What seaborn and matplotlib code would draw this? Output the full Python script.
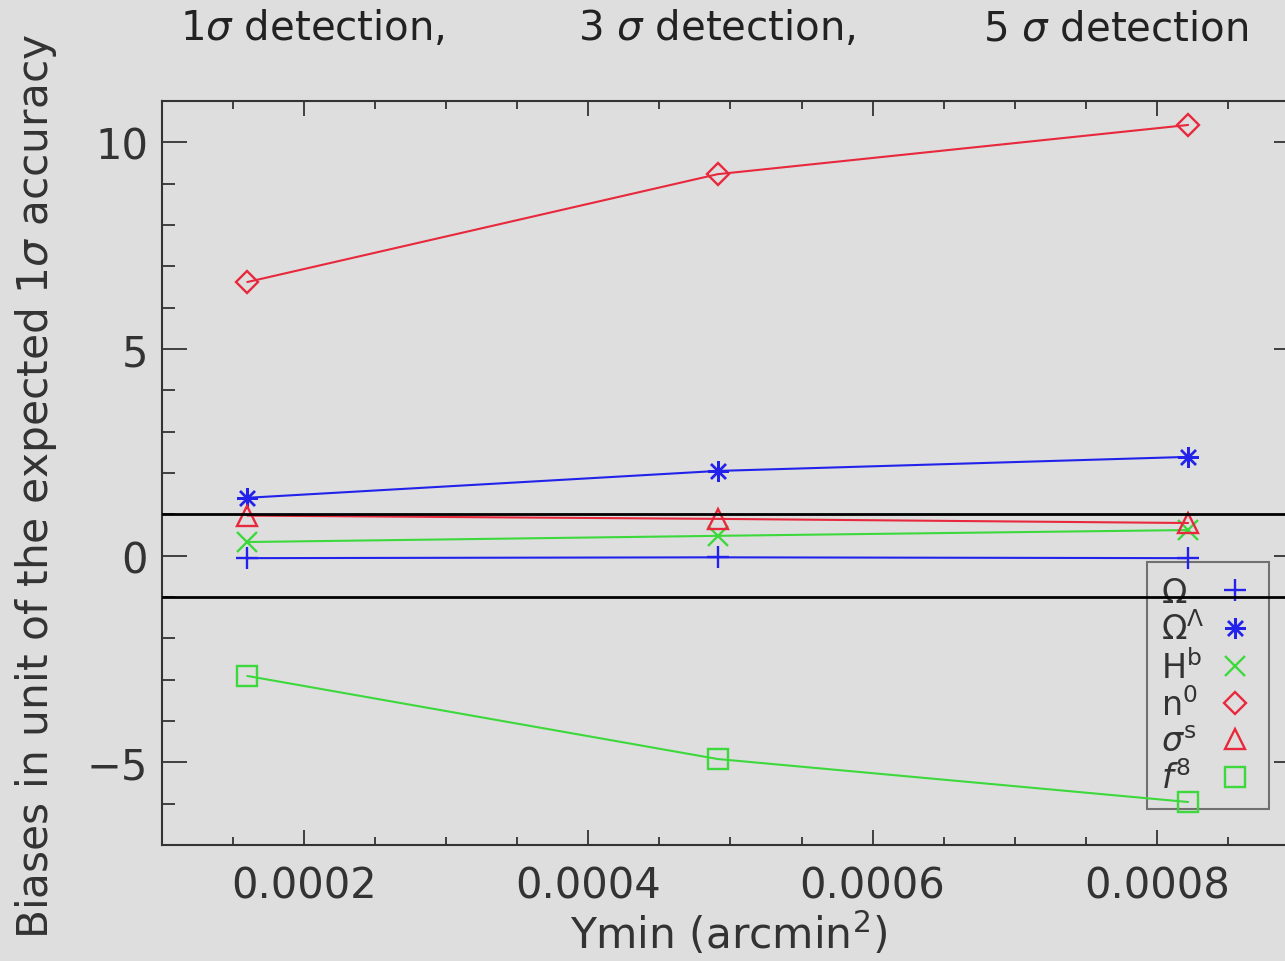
import matplotlib
matplotlib.use("Agg")
import matplotlib.pyplot as plt
from matplotlib.ticker import MultipleLocator, FixedLocator
from matplotlib.lines import Line2D
import pandas as pd
import seaborn as sns

# Detection threshold Ymin (arcmin^2) for the 1, 3 and 5 sigma cases
ymin_arcmin2 = [0.000160, 0.000491, 0.000822]

# Biases of each parameter, in units of the expected 1 sigma accuracy
omega_m = [-0.06, -0.04, -0.06]
omega_l = [1.40, 2.05, 2.39]
h_b = [0.33, 0.48, 0.62]
n_0 = [6.62, 9.23, 10.42]
sigma_s = [0.97, 0.89, 0.79]
f_8 = [-2.91, -4.92, -5.96]

param_labels = [r"$\Omega$", r"$\Omega^{\Lambda}$", r"H$^{\rm b}$",
                r"n$^{0}$", r"$\sigma^{\rm s}$", r"$f^{8}$"]
detection_titles = [r"1$\sigma$ detection,", r"3 $\sigma$ detection,",
                    r"5 $\sigma$ detection"]
x_ticks = [0.0002, 0.0004, 0.0006, 0.0008]
x_tick_labels = ["0.0002", "0.0004", "0.0006", "0.0008"]
y_ticks = [-5, 0, 5, 10]
sigma_bounds = [1, -1]

BLUE = "#2222ea"
RED = "#e8283c"
GREEN = "#3cd83c"
BG = "#dedede"
INK = "#333333"

series = [omega_m, omega_l, h_b, n_0, sigma_s, f_8]
colors = [BLUE, BLUE, GREEN, RED, RED, GREEN]
markers = ["+", (8, 2, 0), "x", "D", "^", "s"]
msizes = [16, 15, 14, 11, 14, 15]

df = pd.concat(
    [pd.DataFrame({"Ymin": ymin_arcmin2, "bias": vals, "param": lab})
     for vals, lab in zip(series, param_labels)],
    ignore_index=True,
)

sns.set_theme(style="ticks")
plt.rcParams["font.family"] = ["DejaVu Sans"]
plt.rcParams["mathtext.fontset"] = "dejavusans"

fig = plt.figure(figsize=(12.85, 9.62), dpi=100, facecolor=BG)
ax = fig.add_axes([0.12607, 0.12058, 0.88482, 0.77339])
ax.set_facecolor(BG)

for lab, col, mk, ms in zip(param_labels, colors, markers, msizes):
    sns.lineplot(data=df[df["param"] == lab], x="Ymin", y="bias", ax=ax,
                 color=col, linewidth=1.5, marker=mk, markersize=ms,
                 markerfacecolor="none", markeredgecolor=col,
                 markeredgewidth=1.7, errorbar=None, legend=False, zorder=3)

for yb in sigma_bounds:
    ax.axhline(yb, color="black", linewidth=2.0, zorder=4)

ax.set_xlim(0.0001, 0.0009)
ax.set_ylim(-7, 11)
ax.xaxis.set_major_locator(FixedLocator(x_ticks))
ax.set_xticklabels(x_tick_labels)
ax.xaxis.set_minor_locator(MultipleLocator(0.00005))
ax.yaxis.set_major_locator(FixedLocator(y_ticks))
ax.yaxis.set_minor_locator(MultipleLocator(1))

ax.tick_params(axis="both", which="both", direction="in",
               top=True, right=True, color=INK, labelcolor=INK,
               labelsize=30)
ax.tick_params(axis="x", which="major", length=11, width=1.3, pad=14)
ax.tick_params(axis="x", which="minor", length=6, width=1.3)
ax.tick_params(axis="y", which="major", length=18, width=1.3, pad=10)
ax.tick_params(axis="y", which="minor", length=9.5, width=1.3)
for sp in ax.spines.values():
    sp.set_color(INK)
    sp.set_linewidth(1.5)

ax.set_xlabel("")
ax.set_ylabel("")
fig.text(0.567, 0.013, r"Ymin (arcmin$^2$)", ha="center", va="baseline",
         fontsize=30.5, color=INK)
fig.text(0.028, 0.494, r"Biases in unit of the expected 1$\sigma$ accuracy",
         ha="center", va="center", rotation=90, fontsize=30.5, color=INK)

for txt, xc in zip(detection_titles, [0.243, 0.558, 0.868]):
    fig.text(xc, 0.958, txt, ha="center", va="baseline", fontsize=29,
             color="#222222")

handles = [Line2D([], [], linestyle="none", marker=mk, markersize=ms,
                  markerfacecolor="none", markeredgecolor=col,
                  markeredgewidth=1.7)
           for col, mk, ms in zip(colors, markers, msizes)]
leg_fs = 24
text_pad = 0.3
leg = ax.legend(handles, param_labels, loc="upper left",
                bbox_to_anchor=(1147 / 1285, 1 - 563 / 962),
                bbox_transform=fig.transFigure, markerfirst=False,
                fontsize=leg_fs, labelspacing=0.08, handlelength=1.2,
                handletextpad=text_pad, borderpad=0.42, borderaxespad=0,
                frameon=True, fancybox=False, facecolor="none",
                edgecolor="#555555", labelcolor=INK)
leg.get_frame().set_linewidth(1.5)
leg.set_zorder(2)

# Left-align the labels while keeping the markers in one column
fig.canvas.draw()
renderer = fig.canvas.get_renderer()
px_per_pt = renderer.points_to_pixels(1.0)
column = leg._legend_handle_box.get_children()[0]
column.align = "left"
rows = column.get_children()
widths = [row.get_children()[0].get_bbox(renderer).width for row in rows]
wmax = max(widths)
for row, w in zip(rows, widths):
    row.sep = text_pad * leg_fs + (wmax - w) / px_per_pt

fig.savefig("out.png", dpi=100, facecolor=BG)
